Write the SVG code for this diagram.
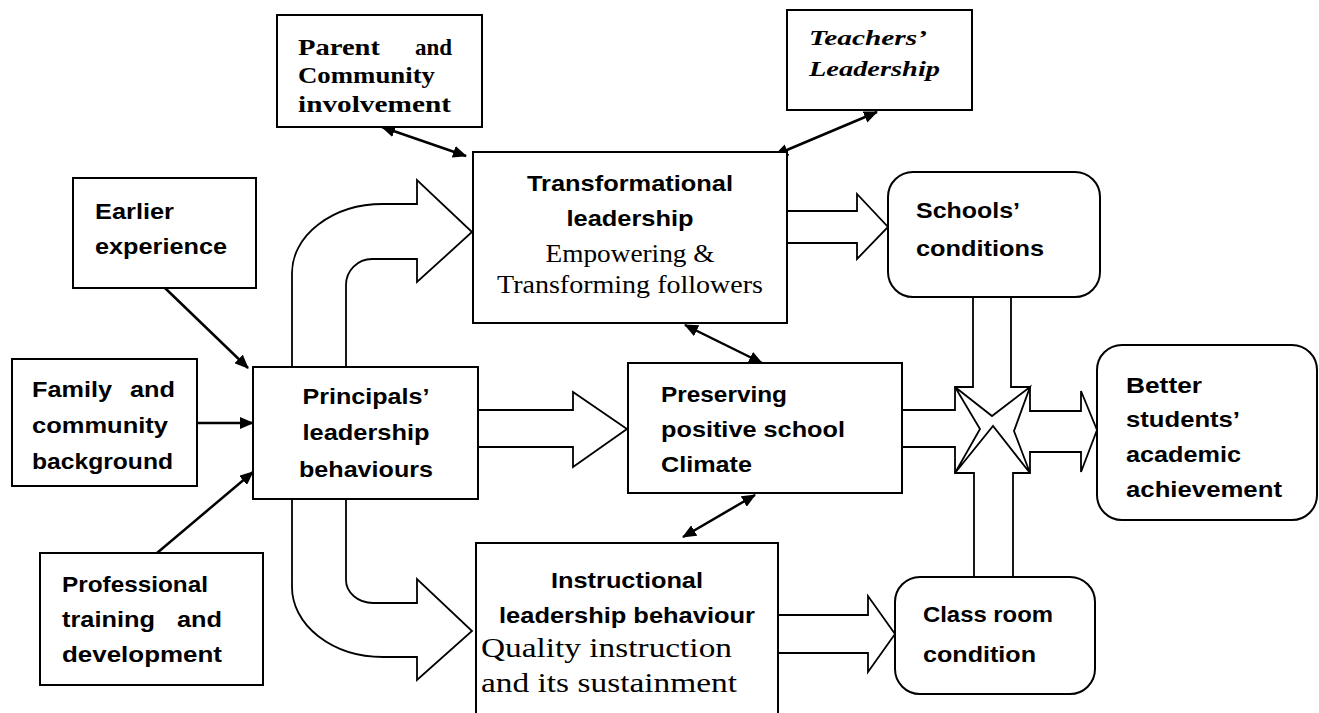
<svg xmlns="http://www.w3.org/2000/svg" width="1319" height="713" viewBox="0 0 1319 713">
  <defs>
    <style>
      .box { fill: #fff; stroke: #000; stroke-width: 2; }
      .blk { fill: #fff; stroke: #000; stroke-width: 1.8; stroke-linejoin: miter; }
      .con { fill: none; stroke: #000; stroke-width: 2.5; }
      .sb { font-family: "Liberation Sans", Arial, sans-serif; font-weight: bold; font-size: 22px; fill: #000; }
      .sr { font-family: "Liberation Serif", "Times New Roman", serif; font-size: 25px; fill: #000; }
      .sr28 { font-family: "Liberation Serif", "Times New Roman", serif; font-size: 28px; fill: #000; }
      .srb { font-family: "Liberation Serif", "Times New Roman", serif; font-weight: bold; font-size: 23px; fill: #000; }
      .sbi { font-family: "Liberation Serif", "Times New Roman", serif; font-weight: bold; font-style: italic; font-size: 22px; fill: #000; }
      .mid { text-anchor: middle; }
      .end { text-anchor: end; }
    </style>
    <marker id="ah" viewBox="0 0 14 12" refX="13" refY="6" markerWidth="14" markerHeight="12" orient="auto-start-reverse" markerUnits="userSpaceOnUse">
      <path d="M0,0 L14,6 L0,12 Z" fill="#000"/>
    </marker>
  </defs>

  <rect width="1319" height="713" fill="#fff"/>

  <!-- Block arrows (hollow) -->
  <g id="block-arrows">
    <!-- principals' behaviours up into transformational leadership -->
    <path class="blk" d="M292,367 L292,273 A91,69 0 0 1 383,204 L417,204 L417,180 L472,232 L417,282 L417,259 L372,259 A26,26 0 0 0 346,285 L346,367"/>
    <!-- principals' behaviours down into instructional leadership -->
    <path class="blk" d="M292,499 L292,587 A91,70 0 0 0 383,657 L417,657 L417,680 L472,631 L417,579 L417,603 L373,603 A27,23 0 0 1 346,580 L346,499"/>
    <!-- principals' behaviours to school climate -->
    <path class="blk" d="M478,410 L573,410 L573,392 L627,429 L573,467 L573,447 L478,447"/>
    <!-- transformational leadership to schools' conditions -->
    <path class="blk" d="M787,211 L857,211 L857,194 L888,227 L857,259 L857,243 L787,243"/>
    <!-- instructional leadership to class room condition -->
    <path class="blk" d="M779,615 L868,615 L868,596 L895,634 L868,672 L868,653 L779,653"/>
    <!-- converging cross into student achievement -->
    <path class="blk" d="M902,410 L955,410 L955,387 L973,387 L973,297 L1011,297 L1011,387 L1030,387 L1030,411 L1081,411 L1081,391 L1097,430 L1081,472 L1081,452 L1030,452 L1030,473 L1013,473 L1013,577 L974,577 L974,473 L955,473 L955,447 L902,447 Z"/>
    <path class="blk" d="M955,387 L992,416 L1030,387 L1014,431 L1030,473 L993,426 L955,473 L980,429 Z"/>
  </g>

  <!-- Connectors -->
  <g id="connectors">
    <line class="con" x1="165" y1="288" x2="248" y2="368" marker-end="url(#ah)"/>
    <line class="con" x1="197" y1="423" x2="253" y2="423" marker-end="url(#ah)"/>
    <line class="con" x1="157" y1="553" x2="253" y2="472" marker-end="url(#ah)"/>
    <line class="con" x1="382" y1="127" x2="466" y2="156" marker-start="url(#ah)" marker-end="url(#ah)"/>
    <line class="con" x1="877" y1="112" x2="775" y2="155" marker-start="url(#ah)" marker-end="url(#ah)"/>
    <line class="con" x1="685" y1="325" x2="762" y2="363" marker-start="url(#ah)" marker-end="url(#ah)"/>
    <line class="con" x1="755" y1="495" x2="683" y2="537" marker-start="url(#ah)" marker-end="url(#ah)"/>
  </g>

  <!-- Nodes -->
  <g id="parent-community">
    <rect class="box" x="277" y="15" width="205" height="112"/>
    <text class="srb" x="298" y="55" textLength="82" lengthAdjust="spacingAndGlyphs">Parent</text>
    <text class="srb end" x="452" y="55">and</text>
    <text class="srb" x="298" y="83" textLength="137" lengthAdjust="spacingAndGlyphs">Community</text>
    <text class="srb" x="298" y="112" textLength="153" lengthAdjust="spacingAndGlyphs">involvement</text>
  </g>

  <g id="teachers-leadership">
    <rect class="box" x="787" y="10" width="185" height="100"/>
    <text class="sbi" x="809" y="45" textLength="118" lengthAdjust="spacingAndGlyphs">Teachers’</text>
    <text class="sbi" x="809" y="76" textLength="131" lengthAdjust="spacingAndGlyphs">Leadership</text>
  </g>

  <g id="earlier-experience">
    <rect class="box" x="73" y="178" width="183" height="110"/>
    <text class="sb" x="95" y="219" textLength="79" lengthAdjust="spacingAndGlyphs">Earlier</text>
    <text class="sb" x="95" y="254" textLength="132" lengthAdjust="spacingAndGlyphs">experience</text>
  </g>

  <g id="family-background">
    <rect class="box" x="12" y="359" width="185" height="127"/>
    <text class="sb" x="32" y="397" textLength="80" lengthAdjust="spacingAndGlyphs">Family</text>
    <text class="sb end" x="175" y="397" textLength="45" lengthAdjust="spacingAndGlyphs">and</text>
    <text class="sb" x="32" y="433" textLength="136" lengthAdjust="spacingAndGlyphs">community</text>
    <text class="sb" x="32" y="469" textLength="141" lengthAdjust="spacingAndGlyphs">background</text>
  </g>

  <g id="professional-training">
    <rect class="box" x="40" y="553" width="223" height="132"/>
    <text class="sb" x="62" y="592" textLength="146" lengthAdjust="spacingAndGlyphs">Professional</text>
    <text class="sb" x="62" y="627" textLength="93" lengthAdjust="spacingAndGlyphs">training</text>
    <text class="sb end" x="222" y="627" textLength="45" lengthAdjust="spacingAndGlyphs">and</text>
    <text class="sb" x="62" y="662" textLength="160" lengthAdjust="spacingAndGlyphs">development</text>
  </g>

  <g id="principals-behaviours">
    <rect class="box" x="253" y="367" width="225" height="132"/>
    <text class="sb mid" x="366" y="404" textLength="127" lengthAdjust="spacingAndGlyphs">Principals’</text>
    <text class="sb mid" x="366" y="440" textLength="127" lengthAdjust="spacingAndGlyphs">leadership</text>
    <text class="sb mid" x="366" y="477" textLength="134" lengthAdjust="spacingAndGlyphs">behaviours</text>
  </g>

  <g id="transformational-leadership">
    <rect class="box" x="473" y="152" width="314" height="171"/>
    <text class="sb mid" x="630" y="191" textLength="206" lengthAdjust="spacingAndGlyphs">Transformational</text>
    <text class="sb mid" x="630" y="226" textLength="127" lengthAdjust="spacingAndGlyphs">leadership</text>
    <text class="sr mid" x="630" y="262" textLength="169" lengthAdjust="spacingAndGlyphs">Empowering &amp;</text>
    <text class="sr mid" x="630" y="293" textLength="266" lengthAdjust="spacingAndGlyphs">Transforming followers</text>
  </g>

  <g id="school-climate">
    <rect class="box" x="628" y="363" width="274" height="130"/>
    <text class="sb" x="661" y="402" textLength="126" lengthAdjust="spacingAndGlyphs">Preserving</text>
    <text class="sb" x="661" y="437" textLength="184" lengthAdjust="spacingAndGlyphs">positive school</text>
    <text class="sb" x="661" y="472" textLength="91" lengthAdjust="spacingAndGlyphs">Climate</text>
  </g>

  <g id="instructional-leadership">
    <rect class="box" x="476" y="543" width="302" height="180"/>
    <text class="sb mid" x="627" y="588" textLength="152" lengthAdjust="spacingAndGlyphs">Instructional</text>
    <text class="sb mid" x="627" y="623" textLength="256" lengthAdjust="spacingAndGlyphs">leadership behaviour</text>
    <text class="sr28" x="481" y="657" textLength="251" lengthAdjust="spacingAndGlyphs">Quality instruction</text>
    <text class="sr28" x="481" y="692" textLength="256" lengthAdjust="spacingAndGlyphs">and its sustainment</text>
  </g>

  <g id="schools-conditions">
    <rect class="box" x="888" y="172" width="212" height="125" rx="25" ry="25"/>
    <text class="sb" x="916" y="218" textLength="104" lengthAdjust="spacingAndGlyphs">Schools’</text>
    <text class="sb" x="916" y="256" textLength="128" lengthAdjust="spacingAndGlyphs">conditions</text>
  </g>

  <g id="class-room-condition">
    <rect class="box" x="895" y="577" width="200" height="117" rx="25" ry="25"/>
    <text class="sb" x="923" y="622" textLength="130" lengthAdjust="spacingAndGlyphs">Class room</text>
    <text class="sb" x="923" y="662" textLength="113" lengthAdjust="spacingAndGlyphs">condition</text>
  </g>

  <g id="student-achievement">
    <rect class="box" x="1097" y="345" width="220" height="175" rx="25" ry="25"/>
    <text class="sb" x="1126" y="393" textLength="76" lengthAdjust="spacingAndGlyphs">Better</text>
    <text class="sb" x="1126" y="427" textLength="114" lengthAdjust="spacingAndGlyphs">students’</text>
    <text class="sb" x="1126" y="462" textLength="115" lengthAdjust="spacingAndGlyphs">academic</text>
    <text class="sb" x="1126" y="497" textLength="156" lengthAdjust="spacingAndGlyphs">achievement</text>
  </g>
</svg>
